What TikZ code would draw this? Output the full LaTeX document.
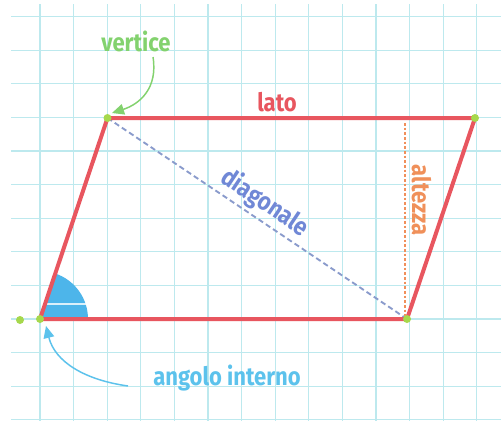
\documentclass[tikz,border=0pt]{standalone}
\usepackage{fontspec}
\setmainfont{Fira Sans}[FakeStretch=0.87]
\usetikzlibrary{arrows.meta}
\definecolor{gridc}{HTML}{BDE9EE}
\definecolor{redc}{HTML}{E8565F}
\definecolor{greenc}{HTML}{83D26E}
\definecolor{dotc}{HTML}{A6D84C}
\definecolor{anglec}{HTML}{4DB5EA}
\definecolor{angtxt}{HTML}{5CC2EC}
\definecolor{diagc}{HTML}{8A9BCC}
\definecolor{diagtxt}{HTML}{7088D6}
\definecolor{orangec}{HTML}{F0905A}
\begin{document}
\begin{tikzpicture}[x=0.75pt,y=-0.75pt,
  lbl/.style={font=\fontsize{19}{20}\selectfont\bfseries, inner sep=0pt},
  gridline/.style={draw=gridc, line width=0.9pt},
  side/.style={draw=redc, line width=3pt, line join=round},
  vdot/.style={fill=dotc},
  diagline/.style={draw=diagc, line width=1.4pt, dash pattern=on 4pt off 2.5pt},
  hline/.style={draw=orangec, line width=1.3pt, dash pattern=on 2pt off 1.5pt},
  callout/.style={line width=1.1pt, -{Triangle[length=9pt,width=8pt]}}]
\useasboundingbox (0,0) rectangle (501,421);
\fill[white] (0,0) rectangle (501,421);
% grid
\foreach \k in {0,...,13} \draw[gridline] ({40+33.6*\k},4) -- ({40+33.6*\k},421);
\foreach \k in {0,...,12} \draw[gridline] (11,{16.5+33.6*\k}) -- (501,{16.5+33.6*\k});
% vertices
\coordinate (A) at (40,319);
\coordinate (B) at (107.5,118);
\coordinate (C) at (475,118);
\coordinate (D) at (407,319);
\coordinate (E) at (20,320);
% angle sector
\fill[anglec] (A) -- ++(36pt,0pt) arc[start angle=0, end angle=71.3, radius=36pt] -- cycle;
\draw[white, line width=1.2pt, opacity=0.8] (45,304) -- (85.5,304);
% diagonal and height
\draw[diagline] (B) -- (D);
\coordinate (H1) at (405,123);
\coordinate (H2) at (405,316);
\draw[hline] (H1) -- (H2);
% sides
\draw[side] (A) -- (B) -- (C) -- (D) -- cycle;
% dots
\foreach \p in {A,B,C,D,E} \fill[vdot] (\p) circle[radius=3pt];
% labels
\node[lbl, text=greenc] (vert) at (136,41) {vertice};
\node[lbl, text=redc] (lato) at (277,102) {lato};
\node[lbl, text=orangec, rotate=-90] (alt) at (421.5,200) {altezza};
\node[lbl, text=diagtxt, rotate=-33.9] (diag) at (265,203) {diagonale};
\node[lbl, text=angtxt] (ang) at (227,378) {angolo interno};
% callouts
\coordinate (vtail) at (153,57);
\coordinate (vtip) at (112,113);
\draw[callout, draw=greenc] (vtail) .. controls (158,88) and (140,104) .. (vtip);
\coordinate (atail) at (128,386);
\coordinate (atip) at (46,326);
\draw[callout, draw=angtxt] (atail) .. controls (85,380) and (55,362) .. (atip);
\end{tikzpicture}
\end{document}
